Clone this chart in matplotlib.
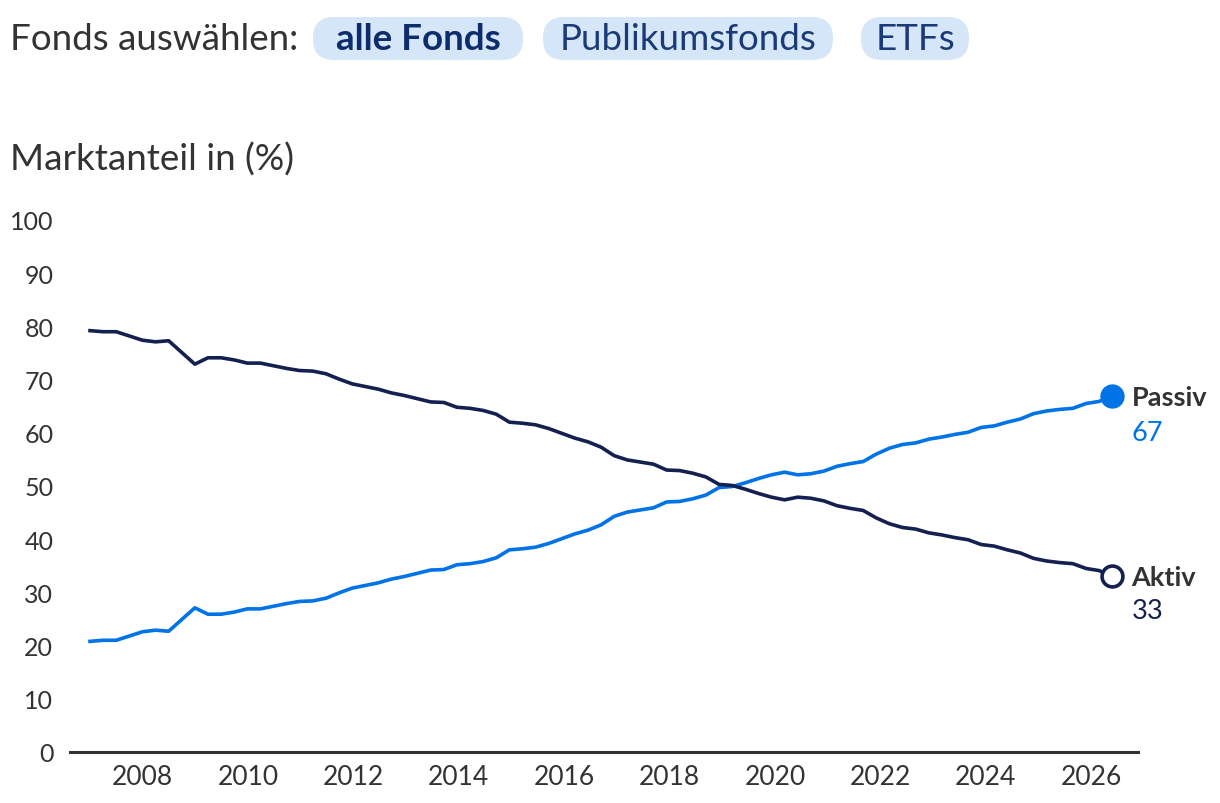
import numpy as np
import matplotlib
matplotlib.use("Agg")
import matplotlib.pyplot as plt
from matplotlib.patches import FancyBboxPatch

plt.rcParams['font.family'] = ['Lato', 'DejaVu Sans']

# ---- data ----
aktiv = [79.2, 79.0, 79.0, 78.2, 77.4, 77.1, 77.3, 75.1, 72.9, 74.1,
         74.1, 73.7, 73.1, 73.1, 72.6, 72.1, 71.7, 71.6, 71.1, 70.1,
         69.2, 68.7, 68.2, 67.5, 67.0, 66.4, 65.8, 65.7, 64.8, 64.6,
         64.2, 63.5, 62.0, 61.8, 61.5, 60.8, 59.9, 59.0, 58.3, 57.3,
         55.7, 54.9, 54.5, 54.1, 53.0, 52.9, 52.4, 51.7, 50.3, 50.1,
         49.4, 48.6, 47.9, 47.4, 47.9, 47.7, 47.2, 46.3, 45.8, 45.4,
         44.0, 42.9, 42.2, 41.9, 41.2, 40.8, 40.3, 39.9, 39.0, 38.7,
         38.0, 37.4, 36.4, 35.9, 35.6, 35.4, 34.5, 34.1, 33.1]
passiv = [20.8, 21.0, 21.0, 21.8, 22.6, 22.9, 22.7, 24.9, 27.1, 25.9,
          25.9, 26.3, 26.9, 26.9, 27.4, 27.9, 28.3, 28.4, 28.9, 29.9,
          30.8, 31.3, 31.8, 32.5, 33.0, 33.6, 34.2, 34.3, 35.2, 35.4,
          35.8, 36.5, 38.0, 38.2, 38.5, 39.2, 40.1, 41.0, 41.7, 42.7,
          44.3, 45.1, 45.5, 45.9, 47.0, 47.1, 47.6, 48.3, 49.7, 49.9,
          50.6, 51.4, 52.1, 52.6, 52.1, 52.3, 52.8, 53.7, 54.2, 54.6,
          56.0, 57.1, 57.8, 58.1, 58.8, 59.2, 59.7, 60.1, 61.0, 61.3,
          62.0, 62.6, 63.6, 64.1, 64.4, 64.6, 65.5, 65.9, 66.9]
years = np.linspace(2007.0, 2026.4, len(aktiv))
x_ticks = [2008, 2010, 2012, 2014, 2016, 2018, 2020, 2022, 2024, 2026]
y_ticks = [0, 10, 20, 30, 40, 50, 60, 70, 80, 90, 100]
end_labels = {"Passiv": "67", "Aktiv": "33"}
pills = ["alle Fonds", "Publikumsfonds", "ETFs"]

C_PASSIV = "#0073e6"
C_AKTIV = "#14204f"
C_TEXT = "#333333"

W, H = 1220, 804
fig = plt.figure(figsize=(W / 100, H / 100), dpi=100)

# main axes in pixel layout
left_px, right_px = 70, 1138
bot_px, top_px = 753, 221
ax = fig.add_axes([left_px / W, 1 - bot_px / H, (right_px - left_px) / W, (bot_px - top_px) / H])
ax.set_xlim(2006.62, 2026.89)
ax.set_ylim(0, 100)

ax.plot(years, passiv, color=C_PASSIV, lw=2.6, solid_joinstyle='round', zorder=3)
ax.plot(years, aktiv, color=C_AKTIV, lw=2.6, solid_joinstyle='round', zorder=3)
ax.plot(years[-1], passiv[-1], 'o', ms=16.5, color=C_PASSIV, mec=C_PASSIV, clip_on=False, zorder=4)
ax.plot(years[-1], aktiv[-1], 'o', ms=15, mfc='white', mec=C_AKTIV, mew=2.6, clip_on=False, zorder=4)

for s in ['top', 'right', 'left']:
    ax.spines[s].set_visible(False)
ax.spines['bottom'].set_color(C_TEXT)
ax.spines['bottom'].set_linewidth(2.2)
ax.set_xticks(x_ticks)
ax.set_yticks(y_ticks)
ax.tick_params(axis='both', length=0, colors=C_TEXT)
ax.tick_params(axis='y', pad=12, labelsize=18)
ax.tick_params(axis='x', pad=9, labelsize=19)
for lab in ax.get_xticklabels() + ax.get_yticklabels():
    lab.set_color(C_TEXT)

# end labels
ax.annotate("Passiv", (years[-1], passiv[-1]), xytext=(14, -1), textcoords='offset points',
            ha='left', va='center', fontsize=19.5, fontweight='bold', color=C_TEXT, annotation_clip=False)
ax.annotate(end_labels["Passiv"], (years[-1], passiv[-1]), xytext=(14, -26), textcoords='offset points',
            ha='left', va='center', fontsize=19.5, color=C_PASSIV, annotation_clip=False)
ax.annotate("Aktiv", (years[-1], aktiv[-1]), xytext=(14, -1), textcoords='offset points',
            ha='left', va='center', fontsize=19.5, fontweight='bold', color=C_TEXT, annotation_clip=False)
ax.annotate(end_labels["Aktiv"], (years[-1], aktiv[-1]), xytext=(14, -25), textcoords='offset points',
            ha='left', va='center', fontsize=19.5, color=C_AKTIV, annotation_clip=False)

# overlay in pixel coordinates for header
ov = fig.add_axes([0, 0, 1, 1], zorder=-1)
ov.set_xlim(0, W)
ov.set_ylim(H, 0)
ov.axis('off')

ov.text(10, 50, "Fonds auswählen:", fontsize=26.5, color=C_TEXT, ha='left', va='baseline')
pill_boxes = [(313, 523), (543, 833), (861, 969)]
for (x0, x1), name, bold in zip(pill_boxes, pills, [True, False, False]):
    r = 21
    p = FancyBboxPatch((x0 + r, 18 + r), (x1 - x0) - 2 * r, 43 - 2 * r,
                       boxstyle=f"round,pad={r},rounding_size={r}",
                       fc="#d5e6f8", ec='none')
    ov.add_patch(p)
    ov.text((x0 + x1) / 2, 50, name, fontsize=26.5, color="#0d2c6c" if bold else "#1b3a78",
            fontweight='bold' if bold else 'normal', ha='center', va='baseline')

ov.text(10, 171, "Marktanteil in (%)", fontsize=26.5, color=C_TEXT, ha='left', va='baseline')

fig.savefig("out.png", dpi=100, facecolor='white')
